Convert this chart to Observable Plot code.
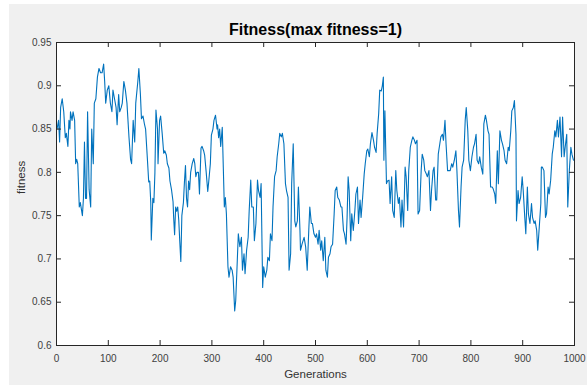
<!DOCTYPE html>
<html>
<head>
<meta charset="utf-8">
<script src="https://cdn.jsdelivr.net/npm/d3@7"></script>
<script src="https://cdn.jsdelivr.net/npm/@observablehq/plot@0.6"></script>
<style>
  html, body { margin: 0; padding: 0; background: #ffffff; }
  #wrap { position: absolute; left: 0; top: 0; width: 587px; height: 385px; overflow: hidden; }
  #bg { position: absolute; left: 9px; top: 4px; right: 0; bottom: 0; background: #f0f0f0; }
  #chart { position: absolute; left: 0; top: 0; }
  svg { font-family: "Liberation Sans", Arial, Helvetica, sans-serif; }
</style>
</head>
<body>
<div id="wrap"><div id="bg"></div><div id="chart"></div></div>
<script>
const title = "Fitness(max fitness=1)";
const xLabel = "Generations";
const yLabel = "fitness";
const xTicks = [0, 100, 200, 300, 400, 500, 600, 700, 800, 900, 1000];
const yTicks = [0.6, 0.65, 0.7, 0.75, 0.8, 0.85, 0.9, 0.95];
const yTickLabels = ["0.6", "0.65", "0.7", "0.75", "0.8", "0.85", "0.9", "0.95"];

const generations = [
  1,4,6,8,11,14,17,19,22,24,26,27,30,32,35,37,39,41,44,46,50,52,54,56,58,60,63,66,68,71,73,76,79,82,85,88,91,93,95,98,
  101,104,107,109,112,115,117,120,122,125,127,130,133,136,140,143,145,148,151,153,157,159,
  162,164,167,170,172,174,176,178,180,182,183,186,188,190,192,195,196,199,201,204,207,209,212,214,217,219,222,225,226,228,230,232,234,236,238,240,
  242,245,247,249,251,253,255,257,259,262,265,267,269,271,274,276,279,281,284,286,289,292,294,297,299,302,304,307,310,311,313,315,317,
  320,322,324,326,328,331,333,336,339,341,344,346,349,351,354,357,359,362,364,367,370,372,375,377,380,382,385,388,390,393,395,398,
  400,403,406,408,411,413,416,418,421,424,426,429,431,434,436,439,442,444,447,449,452,454,457,460,462,465,467,470,
  471,474,478,481,484,487,489,492,494,497,500,502,505,507,510,512,515,518,520,523,525,528,530,533,536,538,541,543,546,549,
  551,554,556,559,561,563,565,568,570,573,576,578,581,583,586,588,591,594,596,599,601,604,606,609,612,614,617,619,622,624,627,629,631,632,634,
  637,639,642,644,647,649,652,655,657,660,662,665,667,670,673,675,678,680,683,686,688,691,693,696,698,
  701,704,706,709,711,714,716,719,722,724,727,729,732,734,737,740,742,745,747,750,752,755,758,760,763,765,768,771,773,776,778,781,783,786,789,791,794,796,799,
  802,805,807,810,812,815,817,820,823,825,828,830,833,835,838,841,843,846,848,851,853,856,859,861,864,866,869,872,874,877,879,882,884,887,888,
  891,893,896,899,901,904,906,909,911,914,917,919,922,924,927,929,932,935,936,938,941,944,946,949,951,954,957,959,962,964,967,969,972,975,977,
  980,982,985,987,990,993,995,998
];
const fitness = [
  0.85,0.86,0.835,0.875,0.885,0.87,0.84,0.845,0.83,0.86,0.85,0.87,0.86,0.87,0.86,0.81,0.815,0.81,0.76,0.765,0.75,0.77,0.835,0.77,0.77,0.87,0.78,0.76,0.85,0.81,0.88,0.885,0.91,0.92,0.915,0.915,0.925,0.905,0.88,0.895,
  0.9,0.88,0.87,0.895,0.885,0.875,0.855,0.89,0.87,0.875,0.88,0.905,0.895,0.88,0.84,0.815,0.81,0.86,0.835,0.88,0.905,0.92,
  0.89,0.862,0.865,0.855,0.85,0.83,0.81,0.789,0.79,0.765,0.722,0.77,0.765,0.8,0.872,0.85,0.81,0.86,0.865,0.845,0.822,0.825,0.82,0.81,0.805,0.79,0.78,0.766,0.75,0.728,0.76,0.755,0.76,0.745,0.72,0.697,
  0.75,0.765,0.789,0.808,0.77,0.76,0.79,0.78,0.8,0.81,0.816,0.81,0.795,0.8,0.8,0.775,0.828,0.83,0.825,0.82,0.8,0.778,0.79,0.81,0.843,0.85,0.86,0.866,0.85,0.855,0.84,0.85,0.83,
  0.852,0.806,0.76,0.771,0.752,0.691,0.679,0.691,0.687,0.679,0.64,0.652,0.698,0.729,0.714,0.725,0.687,0.706,0.683,0.71,0.725,0.756,0.791,0.76,0.76,0.721,0.741,0.791,0.779,0.771,0.787,0.667,
  0.691,0.679,0.687,0.702,0.698,0.729,0.721,0.76,0.795,0.802,0.818,0.833,0.845,0.841,0.845,0.833,0.787,0.779,0.771,0.687,0.706,0.787,0.833,0.744,0.737,0.744,0.783,0.733,
  0.71,0.717,0.725,0.714,0.687,0.733,0.76,0.741,0.741,0.729,0.725,0.729,0.717,0.733,0.71,0.721,0.698,0.725,0.687,0.679,0.702,0.706,0.714,0.717,0.752,0.779,0.783,0.771,0.768,0.76,
  0.76,0.733,0.729,0.717,0.748,0.795,0.779,0.721,0.752,0.733,0.756,0.775,0.783,0.741,0.768,0.748,0.771,0.798,0.81,0.825,0.827,0.818,0.833,0.846,0.837,0.829,0.823,0.845,0.868,0.895,0.894,0.9,0.91,0.814,0.871,
  0.787,0.79,0.791,0.764,0.795,0.756,0.748,0.802,0.779,0.764,0.771,0.737,0.768,0.737,0.806,0.795,0.756,0.802,0.829,0.837,0.841,0.837,0.833,0.837,0.752,
  0.756,0.802,0.821,0.814,0.802,0.798,0.795,0.802,0.756,0.779,0.802,0.806,0.768,0.768,0.821,0.833,0.841,0.844,0.837,0.86,0.833,0.802,0.802,0.802,0.81,0.806,0.814,0.825,0.802,0.756,0.737,0.783,0.806,0.814,0.86,0.875,0.848,0.814,0.802,
  0.818,0.829,0.833,0.844,0.814,0.81,0.818,0.806,0.798,0.856,0.866,0.86,0.848,0.844,0.783,0.783,0.781,0.775,0.764,0.825,0.787,0.848,0.837,0.833,0.825,0.814,0.81,0.829,0.825,0.848,0.871,0.875,0.883,0.844,0.744,
  0.779,0.764,0.771,0.795,0.779,0.748,0.729,0.783,0.752,0.741,0.764,0.748,0.741,0.744,0.733,0.71,0.737,0.764,0.806,0.806,0.802,0.748,0.752,0.783,0.775,0.791,0.821,0.829,0.848,0.841,0.86,0.841,0.864,0.818,0.864,
  0.818,0.829,0.844,0.76,0.802,0.829,0.821,0.814
];

const data = generations.map((g, i) => ({g, f: fitness[i]}));

const chart = Plot.plot({
  width: 587,
  height: 385,
  marginLeft: 56,
  marginRight: 13,
  marginTop: 42,
  marginBottom: 40,
  style: {background: "transparent", fontFamily: "'Liberation Sans', Arial, Helvetica, sans-serif", overflow: "visible"},
  x: {domain: [0, 1000]},
  y: {domain: [0.6, 0.95]},
  marks: [
    Plot.frame({fill: "white", stroke: null}),
    Plot.line(data, {x: "g", y: "f", stroke: "#0072BD", strokeWidth: 1.1}),
    Plot.tickX(xTicks, {x: d => d, insetTop: 298, stroke: "#262626"}),
    Plot.tickX(xTicks, {x: d => d, insetBottom: 298, stroke: "#262626"}),
    Plot.tickY(yTicks, {y: d => d, insetRight: 513, stroke: "#262626"}),
    Plot.tickY(yTicks, {y: d => d, insetLeft: 513, stroke: "#262626"}),
    Plot.frame({stroke: "#262626", strokeWidth: 1}),
    Plot.axisX(xTicks, {tickSize: 0, tickPadding: 9, fontSize: 10, fill: "#404040", tickFormat: d => String(d), label: null}),
    Plot.axisY(yTicks, {tickSize: 0, tickPadding: 5, fontSize: 10, fill: "#404040", tickFormat: (d, i) => yTickLabels[i], label: null}),
    Plot.text([title], {frameAnchor: "top", dy: -13, text: d => d, fontSize: 16, fontWeight: "bold", fill: "#000", lineAnchor: "middle"}),
    Plot.text([xLabel], {frameAnchor: "bottom", dy: 29, text: d => d, fontSize: 11.5, fill: "#333", lineAnchor: "middle"}),
    Plot.text([yLabel], {frameAnchor: "left", dx: -35, rotate: -90, text: d => d, fontSize: 11.5, fill: "#333", lineAnchor: "middle"})
  ]
});
document.getElementById("chart").appendChild(chart);
</script>
</body>
</html>
